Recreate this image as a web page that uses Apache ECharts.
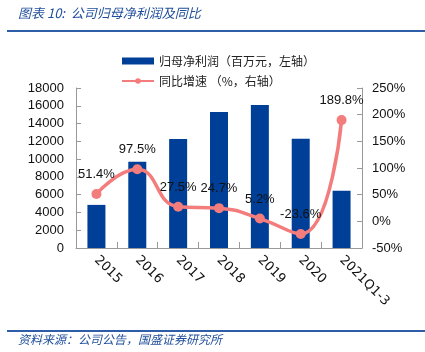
<!DOCTYPE html>
<html>
<head>
<meta charset="UTF-8">
<title>公司归母净利润及同比</title>
<script src="https://cdn.jsdelivr.net/npm/echarts@6/dist/echarts.min.js"></script>
<style>
html,body{margin:0;padding:0;background:#fff;}
#main{width:425px;height:352px;}
</style>
</head>
<body>
<div id="main"></div>
<script type="text/javascript">
var categories = ['2015', '2016', '2017', '2018', '2019', '2020', '2021Q1-3'];
var profit = [4850, 9700, 12250, 15300, 16100, 12300, 6450];
var growth = [51.4, 97.5, 27.5, 24.7, 5.2, -23.6, 189.8];
var leftTicks = [0, 18000, 2000];
var rightTicks = [-50, 250, 50];

var numFont = 'Liberation Sans';
var cnFont = 'Noto Sans CJK SC';
var blue = '#003f97';
var pink = '#f37c7c';

var myChart = echarts.init(document.getElementById('main'));
var option = {
	animation: false,
	textStyle: { fontFamily: numFont },
	graphic: [
		{ type: 'text', left: 18, top: 7, style: { text: '图表 10:  公司归母净利润及同比', font: 'italic 13px "Noto Sans CJK SC"', fill: '#1f4e9a' } },
		{ type: 'rect', shape: { x: 7, y: 30, width: 418, height: 2 }, style: { fill: '#2e5ea8' } },
		{ type: 'rect', shape: { x: 7, y: 330, width: 418, height: 2 }, style: { fill: '#2e5ea8' } },
		{ type: 'text', left: 18, top: 333, style: { text: '资料来源：公司公告，国盛证券研究所', font: 'italic 12px "Noto Sans CJK SC"', fill: '#1f4e9a' } }
	],
	legend: {
		orient: 'vertical',
		left: 116,
		top: 50,
		itemGap: 8,
		itemWidth: 32,
		itemHeight: 7,
		textStyle: { fontFamily: cnFont, fontSize: 12, color: '#222' },
		data: [
			{ name: '归母净利润（百万元，左轴）', icon: 'rect' },
			{ name: '同比增速 （%，右轴）' }
		]
	},
	grid: { left: 76, right: 63, top: 88, bottom: 104 },
	xAxis: [{
		type: 'category',
		data: categories,
		axisLine: { lineStyle: { color: '#999' } },
		axisTick: { show: true, inside: true, length: 6, lineStyle: { color: '#999' } },
		axisLabel: { rotate: -45, fontSize: 13, color: '#111', margin: 10, fontFamily: 'DejaVu Sans' }
	}],
	yAxis: [{
		type: 'value',
		min: leftTicks[0], max: leftTicks[1], interval: leftTicks[2],
		splitLine: { show: false },
		axisLine: { show: true, lineStyle: { color: '#999' } },
		axisTick: { show: true, inside: true, length: 5, lineStyle: { color: '#999' } },
		axisLabel: { fontSize: 13, color: '#111', margin: 12, formatter: function (v) { return String(v); } }
	}, {
		type: 'value',
		min: rightTicks[0], max: rightTicks[1], interval: rightTicks[2],
		splitLine: { show: false },
		axisLine: { show: true, lineStyle: { color: '#999' } },
		axisTick: { show: true, inside: true, length: 5, lineStyle: { color: '#999' } },
		axisLabel: { fontSize: 13, color: '#111', margin: 10, formatter: '{value}%' }
	}],
	series: [{
		name: '归母净利润（百万元，左轴）',
		type: 'bar',
		data: profit,
		barWidth: 18,
		itemStyle: { color: blue }
	}, {
		name: '同比增速 （%，右轴）',
		type: 'line',
		yAxisIndex: 1,
		data: growth,
		smooth: true,
		symbol: 'circle',
		symbolSize: 10,
		lineStyle: { color: pink, width: 3.5 },
		itemStyle: { color: pink },
		label: {
			show: true,
			position: 'top',
			distance: 8,
			fontSize: 13,
			color: '#111',
			formatter: function (p) { return p.value.toFixed(1) + '%'; }
		}
	}]
};
myChart.setOption(option);
</script>
</body>
</html>
